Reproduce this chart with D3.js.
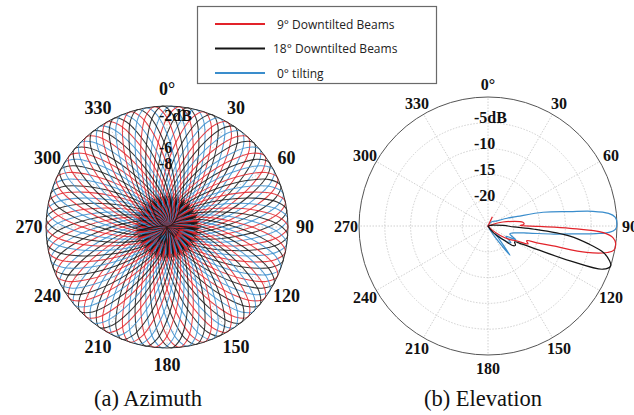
<!DOCTYPE html>
<html><head><meta charset="utf-8">
<script src="https://cdn.jsdelivr.net/npm/d3@7"></script>
<style>body{margin:0;background:#fff}svg{display:block}</style>
</head><body>
<svg id="c" width="634" height="415"></svg>
<script>
// ---------- DATA ----------
const legendLabels = ["9° Downtilted Beams", "18° Downtilted Beams", "0° tilting"];
const angleTicks = [0, 30, 60, 90, 120, 150, 180, 210, 240, 270, 300, 330];
const angleTickLabels = ["0°", "30", "60", "90", "120", "150", "180", "210", "240", "270", "300", "330"];

// Azimuth panel
const azRingTicks = [-2, -6, -8];
const azRingLabels = ["-2dB", "-6", "-8"];
const azBeamsBlue  = [2,14,26,38,50,62,74,86,98,110,122,134,146,158,170,182,194,206,218,230,242,254,266,278,290,302,314,326,338,350];
const azBeamsRed   = [6,18,30,42,54,66,78,90,102,114,126,138,150,162,174,186,198,210,222,234,246,258,270,282,294,306,318,330,342,354];
const azBeamsBlack = [10,22,34,46,58,70,82,94,106,118,130,142,154,166,178,190,202,214,226,238,250,262,274,286,298,310,322,334,346,358];
const azLobeOffsets = [-180,-170,-145,-115,-95,-82,-65,-49.5,-28.5,-17.4,-10.3,-4.8,0,4.8,10.3,17.4,28.5,49.5,65,82,95,115,145,170];
const azLobeBlue  = [-11.8,-15,-13.2,-15,-11.6,-15,-14.3,-13.4,-10.7,-7.1,-3.6,-1,0,-1,-3.6,-7.1,-10.7,-13.4,-14.3,-15,-12,-15,-13.6,-15];
const azLobeRed   = [-11.2,-15,-13.8,-15,-10.8,-15,-14.3,-13.4,-10.7,-7.1,-3.6,-1,0,-1,-3.6,-7.1,-10.7,-13.4,-14.3,-15,-11.4,-15,-12.9,-15];
const azLobeBlack = [-11.6,-15,-12.8,-15,-11.2,-15,-14.3,-13.4,-10.7,-7.1,-3.6,-1,0,-1,-3.6,-7.1,-10.7,-13.4,-14.3,-15,-11,-15,-13.4,-15];

// Elevation panel
const elRingTicks = [-5, -10, -15, -20];
const elRingLabels = ["-5dB", "-10", "-15", "-20"];
const elAnglesBlue = [0,40,60,68,72,76,80,82,84,86,89,91.5,93,94,95,97,100,104,110,116,120,126,132,136,139,143,147,152,160,200,260,320];
const elGainBlue   = [-25,-24,-23,-21,-19,-14,-8.9,-4.5,-1.5,-0.3,0,-0.3,-1.5,-4,-7.5,-12.2,-17,-19.5,-20.5,-19,-21,-19.5,-21,-23,-22,-17.9,-22,-24,-25,-25,-25,-25];
const elAnglesRed  = [0,25,40,60,75,84,87,89,90.5,91.6,93.3,95.5,98,101,102.5,105,107,109,111,114,118,122,128,135,150,200,270];
const elGainRed    = [-25,-23,-25,-25,-22,-18.2,-18,-18.8,-15,-9.1,-2.6,-0.6,0.2,-0.2,-1.3,-5.2,-11.8,-15,-17,-16.5,-19,-20,-22,-24,-25,-25,-25];
const elAnglesBlack = [0,60,80,88,92,94,97,100,103,106,108,110.6,113,115.6,118,121,125,128,132,138,145,160,200,280];
const elGainBlack   = [-25,-25,-24,-22,-20,-16,-9,-5.3,-2,-0.5,0,-1.2,-7.7,-14.5,-17.5,-19,-18.5,-18.8,-21,-22.5,-24,-25,-25,-25];

// ---------- STYLES ----------
const colRed = "#e2232a", colBlack = "#151515", colBlue = "#3a8dcc";
const serif = "'Liberation Serif','Times New Roman',serif";

const svg = d3.select("#c");
const rad = d => d * Math.PI / 180;

function grid(g, r, rings, R, dash) {
  g.selectAll(".sp").data(angleTicks).join("line")
    .attr("x1", 0).attr("y1", 0)
    .attr("x2", d => R * Math.sin(rad(d))).attr("y2", d => -R * Math.cos(rad(d)))
    .attr("stroke", "#c4c4c4").attr("stroke-width", 0.8).attr("stroke-dasharray", dash);
  g.selectAll(".rg").data(rings).join("circle")
    .attr("r", d => r(d)).attr("fill", "none")
    .attr("stroke", "#c4c4c4").attr("stroke-width", 0.8).attr("stroke-dasharray", dash);
}
function angleLabels(g, Rl, size) {
  g.selectAll(".al").data(angleTicks).join("text")
    .attr("x", d => Rl * Math.sin(rad(d))).attr("y", d => -Rl * Math.cos(rad(d)))
    .attr("text-anchor", "middle").attr("dominant-baseline", "central")
    .attr("font-family", serif).attr("font-weight", "bold").attr("font-size", size)
    .attr("fill", "#111")
    .text((d, i) => angleTickLabels[i]);
}

// ---------- AZIMUTH ----------
const azC = {x: 167, y: 227}, azR = 121;
const rAz = d3.scaleLinear().domain([-15, 0]).range([0, azR]).clamp(true);
const gA = svg.append("g").attr("transform", `translate(${azC.x},${azC.y})`);
grid(gA, rAz, [-10, -8, -6, -2], azR, "1.5,2");
const azLine = d3.lineRadial().angle(d => rad(d[0])).radius(d => rAz(d[1]))
  .curve(d3.curveCatmullRomClosed.alpha(0.5));
// interleave the three series so that colours mix as in the figure
const azAll = [];
azBeamsBlue.forEach((b, i) => {
  azAll.push({b: b, lobe: azLobeBlue, col: colBlue});
  azAll.push({b: azBeamsRed[i], lobe: azLobeRed, col: colRed});
  azAll.push({b: azBeamsBlack[i], lobe: azLobeBlack, col: colBlack});
});
gA.append("g").selectAll("path").data(azAll).join("path")
  .attr("d", d => azLine(azLobeOffsets.map((o, i) => [d.b + o, d.lobe[i]])))
  .attr("fill", "none").attr("stroke", d => d.col).attr("stroke-width", 1.05).attr("stroke-opacity", 0.85);
gA.append("circle").attr("r", azR).attr("fill", "none").attr("stroke", "#333").attr("stroke-width", 1);
gA.selectAll(".rl").data(azRingTicks).join("text")
  .attr("x", -8).attr("y", d => -(rAz(d) + 7))
  .attr("dominant-baseline", "central")
  .attr("font-family", serif).attr("font-weight", "bold").attr("font-size", 16).attr("fill", "#111")
  .text((d, i) => azRingLabels[i]);
angleLabels(gA, 138, 18);

// ---------- ELEVATION ----------
const elC = {x: 488, y: 226}, elR = 129;
const rEl = d3.scaleLinear().domain([-25, 0]).range([0, elR]).clamp(true);
const gE = svg.append("g").attr("transform", `translate(${elC.x},${elC.y})`);
grid(gE, rEl, elRingTicks, elR, "1.5,1.5");
gE.append("circle").attr("r", elR).attr("fill", "none").attr("stroke", "#555").attr("stroke-width", 1);
const elLine = d3.lineRadial().angle(d => rad(d[0])).radius(d => rEl(d[1]))
  .curve(d3.curveCatmullRomClosed.alpha(0.5));
function drawEl(angles, gains, col) {
  gE.append("path").attr("d", elLine(angles.map((a, i) => [a, gains[i]])))
    .attr("fill", "none").attr("stroke", col).attr("stroke-width", 1.2);
}
drawEl(elAnglesBlue, elGainBlue, colBlue);
drawEl(elAnglesRed, elGainRed, colRed);
drawEl(elAnglesBlack, elGainBlack, colBlack);
gE.selectAll(".rl").data(elRingTicks).join("text")
  .attr("x", -14).attr("y", d => -(rEl(d) + 5))
  .attr("dominant-baseline", "central")
  .attr("font-family", serif).attr("font-weight", "bold").attr("font-size", 16).attr("fill", "#111")
  .text((d, i) => elRingLabels[i]);
angleLabels(gE, 142, 16);

// ---------- LEGEND ----------
const lg = svg.append("g");
lg.append("rect").attr("x", 197.5).attr("y", 6.5).attr("width", 239).attr("height", 77)
  .attr("fill", "#fff").attr("stroke", "#6a6a6a").attr("stroke-width", 1.2);
const legCols = [colRed, colBlack, colBlue];
const ly = d3.scalePoint().domain(legendLabels).range([24, 73]);
lg.selectAll("line").data(legendLabels).join("line")
  .attr("x1", 215).attr("x2", 265).attr("y1", d => ly(d)).attr("y2", d => ly(d))
  .attr("stroke", (d, i) => legCols[i]).attr("stroke-width", 2.2);
lg.selectAll("text").data(legendLabels).join("text")
  .attr("x", (d, i) => i === 1 ? 273 : 277).attr("y", d => ly(d))
  .attr("dominant-baseline", "central")
  .attr("font-family", "'Open Sans',sans-serif").attr("font-size", 12).attr("fill", "#222")
  .text(d => d);

// ---------- CAPTIONS ----------
svg.append("text").attr("x", 148).attr("y", 406).attr("text-anchor", "middle")
  .attr("font-family", serif).attr("font-size", 22.5).attr("fill", "#111").text("(a) Azimuth");
svg.append("text").attr("x", 483).attr("y", 406).attr("text-anchor", "middle")
  .attr("font-family", serif).attr("font-size", 22.5).attr("fill", "#111").text("(b) Elevation");
</script>
</body></html>
